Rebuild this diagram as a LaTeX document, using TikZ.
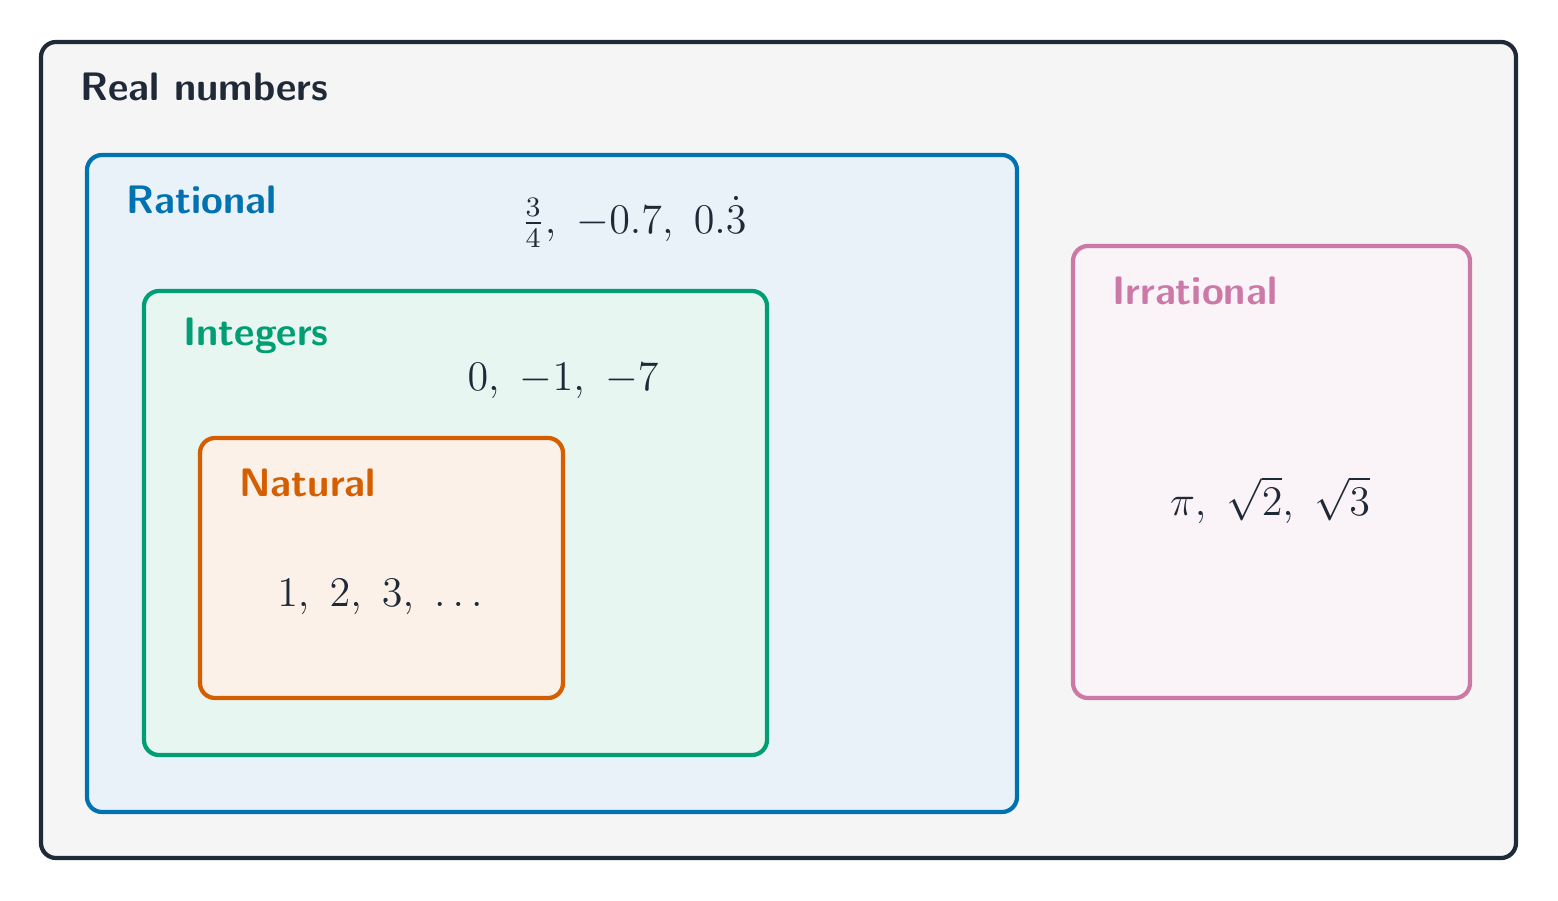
\documentclass[tikz,border=0pt]{standalone}
\usepackage{amsmath}
\usetikzlibrary{positioning}
\definecolor{realc}{HTML}{1F2937}
\definecolor{ratc}{HTML}{0072B2}
\definecolor{intc}{HTML}{009E73}
\definecolor{natc}{HTML}{D55E00}
\definecolor{irrc}{HTML}{CC79A7}
\tikzset{
	set/.style={draw=#1, fill=#1!9, line width=1.2pt, rounded corners=0.15cm,
	            rectangle, inner sep=0},
	setname/.style={anchor=west, text=#1, font=\sffamily\bfseries\fontsize{11.3}{13}\selectfont},
	members/.style={font=\fontsize{11.5}{13}\selectfont, text=realc}
}
\begin{document}
\begin{tikzpicture}
	\useasboundingbox (0,0) rectangle (15.58,9);
	
	% Sets
	\node (real) at (7.785,4.5) [set=realc, fill=black!4, minimum width=14.75cm, minimum height=8.16cm] {};
	\node (rat) at (5.52,4.165) [set=ratc, minimum width=9.30cm, minimum height=6.57cm] {};
	\node (int) at (4.555,3.77) [set=intc, minimum width=6.23cm, minimum height=4.64cm] {};
	\node (nat) at (3.815,3.32) [set=natc, minimum width=3.63cm, minimum height=2.60cm] {};
	\node (irr) at (12.715,4.28) [set=irrc, minimum width=3.97cm, minimum height=4.52cm] {};
	
	% Names
	\foreach \s/\c/\t in {real/realc/Real numbers, rat/ratc/Rational, int/intc/Integers,
	                      nat/natc/Natural, irr/irrc/Irrational}{
		\node (\s label) [setname=\c] at ([shift={(0.29,-0.47)}]\s.north west) {\t};
	}
	
	% Members
	\node (ratmem) [members] at (6.34,6.78) {$\tfrac{3}{4},\ -0.7,\ 0.\dot{3}$};
	\node (intmem) [members] at (5.63,5.19) {$0,\ -1,\ -7$};
	\node (natmem) [members] at (3.80,3.03) {$1,\ 2,\ 3,\ \ldots$};
	\node (irrmem) [members] at (12.70,4.00) {$\pi,\ \sqrt{2},\ \sqrt{3}$};
\end{tikzpicture}
\end{document}
